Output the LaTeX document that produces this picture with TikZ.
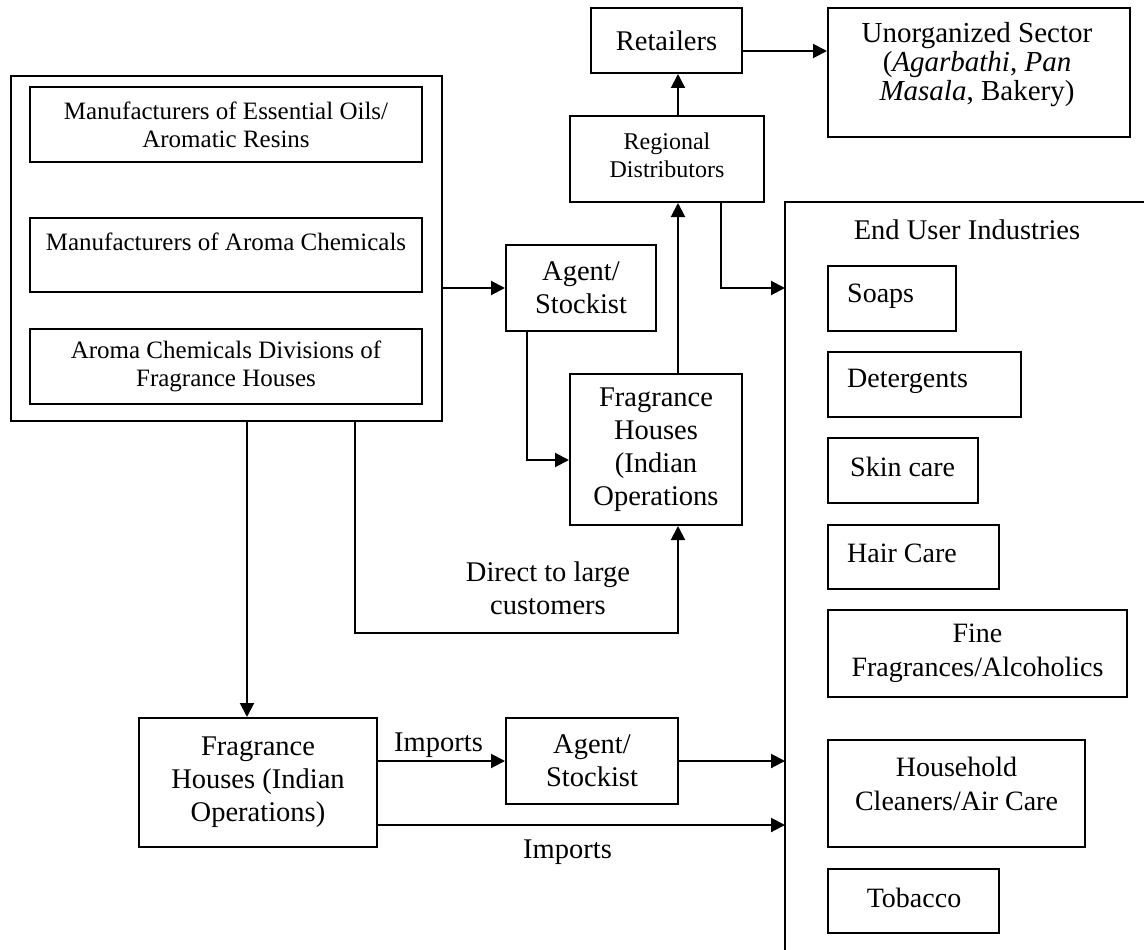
\documentclass[tikz,border=0pt]{standalone}
\usepackage{fontspec}
\setmainfont{Liberation Serif}
\usetikzlibrary{arrows.meta,calc}
\tikzset{
  box/.style={draw, rectangle, line width=2pt, inner sep=0pt, align=center},
  ln/.style={line width=2pt},
  arr/.style={line width=2pt, -{Triangle[length=14pt,width=14pt]}},
  txt/.style={inner sep=0pt, align=center},
  big/.style={font=\fontsize{28.5pt}{33pt}\selectfont},
  mid/.style={font=\fontsize{25pt}{28pt}\selectfont},
  sml/.style={font=\fontsize{24pt}{28pt}\selectfont},
  uns/.style={font=\fontsize{29pt}{29pt}\selectfont},
  eus/.style={font=\fontsize{28pt}{34pt}\selectfont},
}
\begin{document}
\begin{tikzpicture}[x=1pt,y=-1pt]
\useasboundingbox (0,0) rectangle (1144,950);

% left group
\node[box, minimum width=431pt, minimum height=345pt] (outer) at (226.5,248.5) {};
\node[box, mid, minimum width=392pt, minimum height=75pt] (m1) at (226,124.5)
  {Manufacturers of Essential Oils/\\Aromatic Resins};
\node[box, minimum width=392pt, minimum height=74pt] (m2) at (226,255) {};
\node[txt, mid] (m2t) at (226,242) {Manufacturers of Aroma Chemicals};
\node[box, mid, minimum width=392pt, minimum height=75pt] (m3) at (226,366.5)
  {Aroma Chemicals Divisions of\\Fragrance Houses};

% upper middle
\node[box, big, minimum width=151pt, minimum height=65pt] (retail) at (666.5,40.5) {Retailers};
\node[box, minimum width=302pt, minimum height=129pt] (unorg) at (979,72.5) {};
\node[txt, uns] (unorgt) at (977,65) {Unorganized Sector\\(\textit{Agarbathi}, \textit{Pan}\\\textit{Masala}, Bakery)};
\node[box, minimum width=194pt, minimum height=86pt] (regdist) at (667,159) {};
\node[txt, sml] (regdistt) at (667,155) {Regional\\Distributors};
\node[box, big, minimum width=150pt, minimum height=86pt] (agent1) at (581,288) {Agent/\\Stockist};
\node[box, big, minimum width=172pt, minimum height=151pt] (fh1) at (656,449.5)
  {Fragrance\\Houses\\(Indian\\Operations};

% lower left
\node[box, big, minimum width=238pt, minimum height=129pt] (fh2) at (258,782.5)
  {Fragrance\\Houses (Indian\\Operations)};
\node[box, big, minimum width=172pt, minimum height=86pt] (agent2) at (592,761) {Agent/\\Stockist};

% end user industries
\coordinate (eu) at (785,202);
\draw[ln] (1144,202) -- (eu) -- (785,950);
\node[txt, big] (eut) at (967,230) {End User Industries};
\node[box, minimum width=128pt, minimum height=65pt] (soaps) at (892,298.5) {};
\node[txt, eus, anchor=west] at (847,296) {Soaps};
\node[box, minimum width=193pt, minimum height=65pt] (deterg) at (924.5,384.5) {};
\node[txt, eus, anchor=west] at (847,381) {Detergents};
\node[box, minimum width=150pt, minimum height=65pt] (skin) at (903,470.5) {};
\node[txt, eus, anchor=west] at (850,467) {Skin care};
\node[box, minimum width=171pt, minimum height=64pt] (hair) at (913.5,557) {};
\node[txt, eus, anchor=west] at (847,553) {Hair Care};
\node[box, eus, minimum width=299pt, minimum height=87pt] (fine) at (977.5,653.5)
  {Fine\\Fragrances/Alcoholics};
\node[box, minimum width=257pt, minimum height=107pt] (house) at (956.5,793.5) {};
\node[txt, eus] at (956.5,784) {Household\\Cleaners/Air Care};
\node[box, minimum width=171pt, minimum height=64pt] (tob) at (913.5,901) {};
\node[txt, eus] at (914,898) {Tobacco};

% connectors
\draw[arr] (agent1.west -| outer.east) -- (agent1.west);
\draw[arr] ([xshift=-54pt]agent1.south) |- ([yshift=-10.5pt]fh1.west);
\draw[arr] ([xshift=22pt]fh1.north) -- ([xshift=22pt]fh1.north |- regdist.south);
\draw[arr] ([xshift=11pt]regdist.north) -- ([xshift=11pt]regdist.north |- retail.south);
\draw[arr] ([yshift=-10.5pt]retail.east) -- ([yshift=-10.5pt]retail.east -| unorg.west);
\draw[arr] ([xshift=54pt]regdist.south) |- (eu |- agent1.east);
\draw[arr] ([xshift=128.5pt]outer.south) -- ++(0,211) -| ([xshift=22pt]fh1.south);
\node[txt, big] (dlc) at (548,588) {Direct to large\\customers};
\draw[arr] ([xshift=-11pt]fh2.north |- outer.south) -- ([xshift=-11pt]fh2.north);
\draw[arr] (agent2.west -| fh2.east) -- (agent2.west);
\node[txt, big] (imp1) at (438.5,745) {Imports};
\draw[arr] (agent2.east) -- (agent2.east -| eu);
\draw[arr] ([yshift=-42.5pt]fh2.east) -- ([yshift=-42.5pt]fh2.east -| eu);
\node[txt, big] (imp2) at (567.5,852) {Imports};
\end{tikzpicture}
\end{document}
